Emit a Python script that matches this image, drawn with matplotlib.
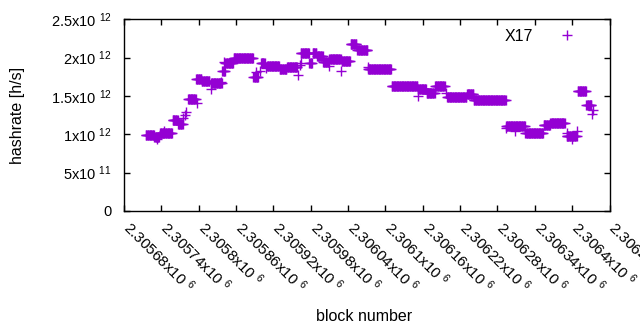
import numpy as np
import matplotlib
matplotlib.use('Agg')
import matplotlib.pyplot as plt
import matplotlib.transforms as mtransforms

# runs of blocks with the same hashrate (value in 1e12 h/s)
seg_start = [2305715, 2305729, 2305738, 2305758, 2305767, 2305783, 2305796, 2305805,
             2305820, 2305838, 2305843, 2305856, 2305888, 2305900, 2305910, 2305930,
             2305942, 2305964, 2305978, 2305983, 2305990, 2306000, 2306010, 2306030,
             2306044, 2306055, 2306072, 2306110, 2306152, 2306166, 2306180, 2306199,
             2306231, 2306242, 2306294, 2306325, 2306354, 2306365, 2306391, 2306409,
             2306423]
seg_end = [2305728, 2305736, 2305757, 2305766, 2305774, 2305795, 2305804, 2305817,
           2305837, 2305842, 2305855, 2305887, 2305895, 2305906, 2305929, 2305941,
           2305958, 2305977, 2305982, 2305989, 2305999, 2306008, 2306028, 2306043,
           2306053, 2306071, 2306109, 2306151, 2306165, 2306179, 2306195, 2306230,
           2306241, 2306293, 2306324, 2306353, 2306364, 2306388, 2306407, 2306422,
           2306431]
seg_val = [0.987, 0.965, 1.013, 1.187, 1.14, 1.457, 1.715, 1.70,
           1.673, 1.82, 1.936, 2.0, 1.75, 1.926, 1.895, 1.85,
           1.874, 2.065, 1.926, 2.06, 2.017, 1.947, 1.978, 1.96,
           2.174, 2.096, 1.858, 1.626, 1.587, 1.543, 1.626, 1.483,
           1.53, 1.444, 1.108, 1.02, 1.12, 1.144, 0.98, 1.56,
           1.378]

# single blocks off the runs
pt_block = [2305733, 2305745, 2305775, 2305778, 2305780, 2305798, 2305819, 2305836,
            2305840, 2305892, 2305898, 2305908, 2305959, 2305963, 2305965, 2306009,
            2306029, 2306072, 2306153, 2306198, 2306294, 2306308, 2306391, 2306400,
            2306407, 2306432, 2306434]
pt_val = [0.94, 1.04, 1.21, 1.25, 1.295, 1.41, 1.59, 1.686,
          1.94, 1.816, 1.83, 1.86, 1.77, 1.9, 1.926, 1.89,
          1.83, 1.88, 1.5, 1.54, 1.08, 1.04, 1.02, 0.935,
          1.047, 1.26, 1.317]

blocks = []
rates = []
for s, e, v in zip(seg_start, seg_end, seg_val):
    for b in range(s, e + 1):
        blocks.append(b)
        rates.append(v * 1e12)
for b, v in zip(pt_block, pt_val):
    blocks.append(b)
    rates.append(v * 1e12)

xticks = np.arange(2305680, 2306461, 60)
xlabels = ['%gx10 $^{6}$' % (t / 1e6) for t in xticks]
yticks = [0, 5e11, 1e12, 1.5e12, 2e12, 2.5e12]
ylabels = ['0', '5x10 $^{11}$', '1x10 $^{12}$', '1.5x10 $^{12}$', '2x10 $^{12}$', '2.5x10 $^{12}$']

plt.rcParams['font.family'] = ['Liberation Sans', 'DejaVu Sans']
plt.rcParams['mathtext.fontset'] = 'custom'
plt.rcParams['mathtext.rm'] = 'Liberation Sans'
plt.rcParams['mathtext.it'] = 'Liberation Sans'
plt.rcParams['font.size'] = 10.5

fig = plt.figure(figsize=(6.4, 3.3), dpi=100)
ax = fig.add_axes([124/640, 1 - 211/330, (609.5 - 124)/640, (211 - 19.3)/330])

ax.plot(blocks, rates, '+', color='#9400d3', ms=6.5, mew=1, label='X17')

ax.set_xlim(2305680, 2306460)
ax.set_ylim(0, 2.5e12)
ax.set_xticks(xticks)
ax.set_xticklabels([])
# rotated tick labels placed by hand so they start right at the tick
shift = mtransforms.ScaledTranslation(9/100, -7/100, fig.dpi_scale_trans)
for t, lab in zip(xticks, xlabels):
    ax.text(t, 0, lab, transform=ax.get_xaxis_transform() + shift, fontsize=11,
            rotation=-45, ha='left', va='top', rotation_mode='anchor', clip_on=False)
ax.set_yticks(yticks)
ax.set_yticklabels(ylabels)
ax.tick_params(direction='in', length=4.5, width=1, top=True, right=True, pad=9)
for sp in ax.spines.values():
    sp.set_linewidth(1)

ax.set_xlabel('block number', fontsize=11.5)
ax.set_ylabel('hashrate [h/s]', fontsize=11.5)
ax.xaxis.set_label_coords(0.495, -0.51)
ax.yaxis.set_label_coords(-0.204, 0.5)

ax.legend(loc='upper right', frameon=False, markerfirst=False, fontsize=11.5,
          bbox_to_anchor=(0.967, 1.025), handletextpad=1.4, handlelength=1.5)

plt.savefig('out.png', dpi=100)
